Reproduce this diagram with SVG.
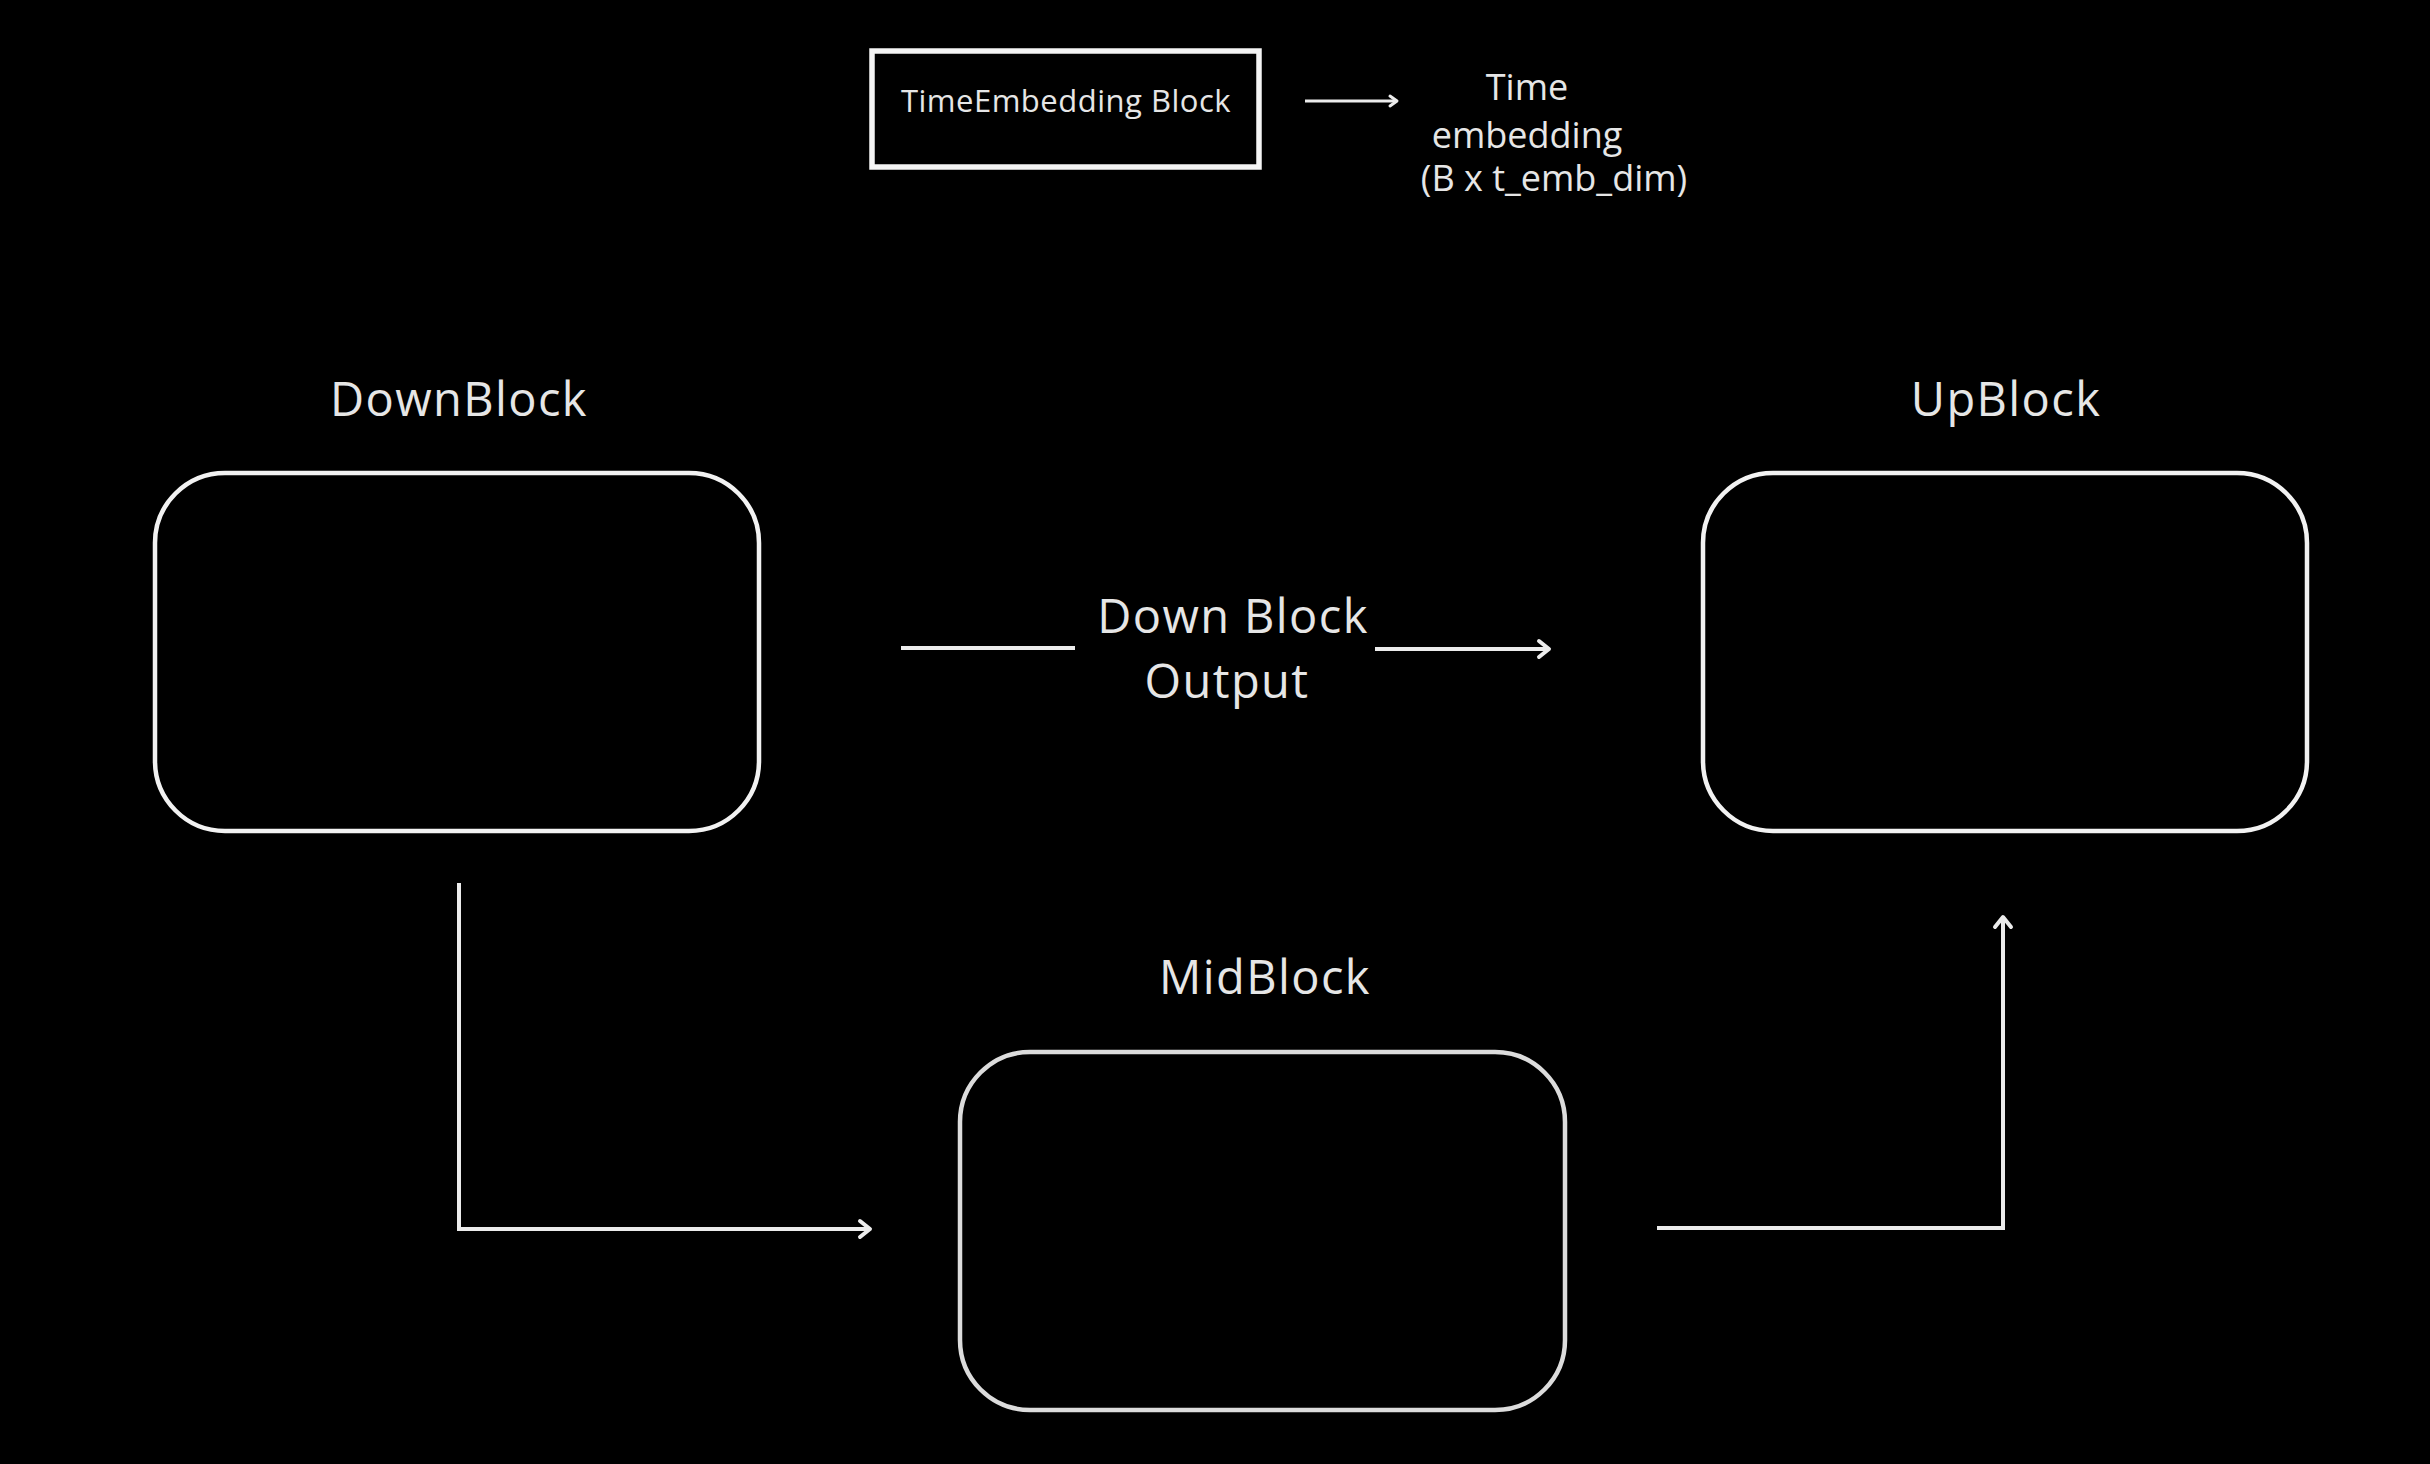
<svg xmlns="http://www.w3.org/2000/svg" width="2430" height="1464" viewBox="0 0 2430 1464">
  <defs>
    <style>
      .bg { fill: #000000; }
      .node { fill: #000000; stroke: #f2f2f2; stroke-width: 4.5; }
      .mid { stroke: #dcdcdc; }
      .teb { fill: #000000; stroke: #f4f4f4; stroke-width: 5.5; }
      .label { fill: #e6e6e6; font-family: "Open Sans", "Liberation Sans", sans-serif; text-anchor: middle; }
      .big { font-size: 47px; letter-spacing: 1.4px; }
      .med { font-size: 36px; }
      .small { font-size: 31px; letter-spacing: 0.5px; }
      .conn { fill: none; stroke: #ececec; stroke-width: 4; stroke-linecap: butt; stroke-linejoin: miter; }
      .thin { stroke-width: 3; }
    </style>
    <marker id="arrow" markerUnits="userSpaceOnUse" markerWidth="30" markerHeight="30" viewBox="-15 -15 30 30" refX="0" refY="0" orient="auto">
      <path d="M -10 -8 L 0 0 L -10 8" fill="none" stroke="#ececec" stroke-width="4" stroke-linecap="round" stroke-linejoin="round"/>
    </marker>
    <marker id="arrowSmall" markerUnits="userSpaceOnUse" markerWidth="20" markerHeight="20" viewBox="-10 -10 20 20" refX="0" refY="0" orient="auto">
      <path d="M -7 -5 L 0 0 L -7 5" fill="none" stroke="#ececec" stroke-width="3" stroke-linecap="round" stroke-linejoin="round"/>
    </marker>
  </defs>

  <rect class="bg" x="0" y="0" width="2430" height="1464"/>

  <g id="time-embedding-block">
    <rect class="teb" x="872" y="51" width="387" height="116"/>
    <text class="label small" x="1066" y="112">TimeEmbedding Block</text>
  </g>

  <g id="time-embedding-output">
    <text class="label med" x="1527" y="100">Time</text>
    <text class="label med" x="1527" y="148">embedding</text>
    <text class="label med" x="1554" y="191">(B x t_emb_dim)</text>
  </g>

  <g id="down-block">
    <text class="label big" x="459" y="416">DownBlock</text>
    <rect class="node" x="155" y="473" width="604" height="358" rx="70" ry="70"/>
  </g>

  <g id="up-block">
    <text class="label big" x="2006" y="416">UpBlock</text>
    <rect class="node" x="1703" y="473" width="604" height="358" rx="70" ry="70"/>
  </g>

  <g id="mid-block">
    <text class="label big" x="1265" y="994">MidBlock</text>
    <rect class="node mid" x="960" y="1052" width="605" height="358" rx="70" ry="70"/>
  </g>

  <g id="down-block-output-label">
    <text class="label big" x="1233" y="633">Down Block</text>
    <text class="label big" x="1227" y="698">Output</text>
  </g>

  <g id="connectors">
    <path class="conn thin" d="M 1305 101 L 1397 101" marker-end="url(#arrowSmall)"/>
    <path class="conn" d="M 901 648 L 1075 648"/>
    <path class="conn" d="M 1375 649 L 1549 649" marker-end="url(#arrow)"/>
    <path class="conn" d="M 459 883 L 459 1229 L 870 1229" marker-end="url(#arrow)"/>
    <path class="conn" d="M 1657 1228 L 2003 1228 L 2003 917" marker-end="url(#arrow)"/>
  </g>
</svg>
